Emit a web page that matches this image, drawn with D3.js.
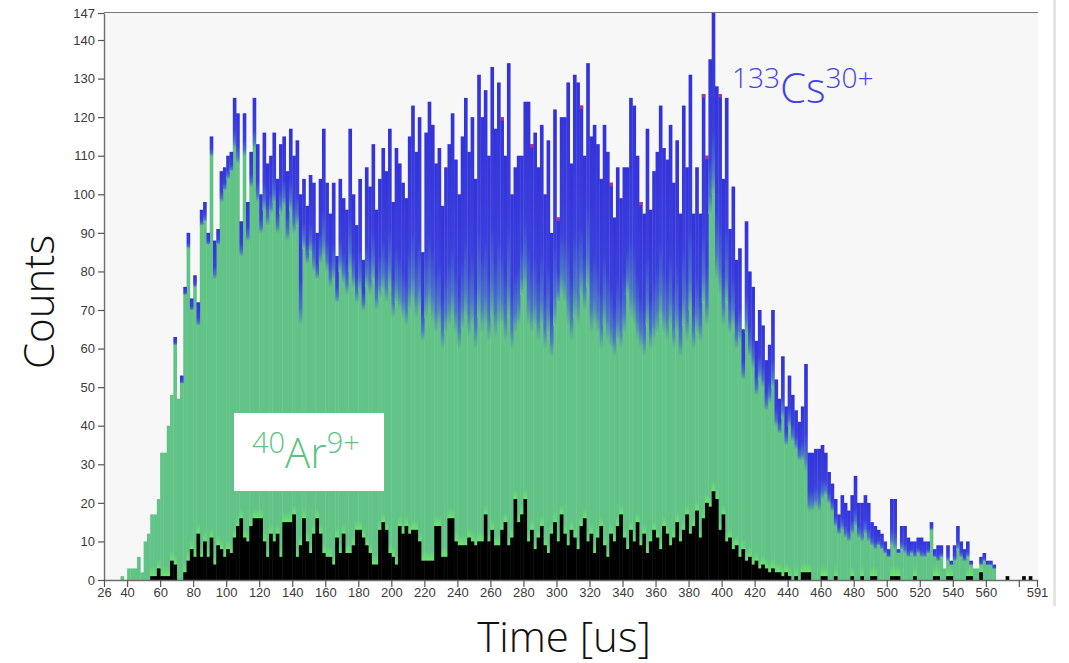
<!DOCTYPE html>
<html>
<head>
<meta charset="utf-8">
<script src="https://cdn.jsdelivr.net/npm/d3@7/dist/d3.min.js"></script>
<style>
  body { margin: 0; background: #fff; }
  svg { display: block; }
</style>
</head>
<body>
<svg id="chart" width="1069" height="663"></svg>
<script>
// Time-of-flight histogram: 2 us bins starting at 26 us
const binStart = 26;
const binWidth = 2;

// Total counts per bin (top of each bar)
const totalCounts = [
  0,0,0,0,0,1,0,3,3,3,6,2,10,12,17,17,21,33,33,40,
  48,63,47,53,76,90,73,79,72,96,98,90,115,88,91,106,107,110,111,125,
  121,93,121,98,111,125,113,100,116,108,110,116,104,113,115,106,117,110,114,100,
  104,97,105,103,90,104,117,103,95,103,84,104,99,96,117,100,92,104,83,107,
  102,113,96,104,112,106,117,98,112,108,103,99,115,123,111,120,85,116,124,118,
  108,112,97,107,113,121,109,100,115,125,111,120,104,131,120,127,110,133,117,129,
  120,110,134,100,107,110,110,124,124,113,116,107,118,100,114,90,122,94,120,120,
  129,108,131,129,123,110,134,115,118,113,104,118,111,103,94,107,99,107,107,125,
  123,110,98,95,117,96,106,111,123,112,109,118,103,114,95,123,107,131,95,107,
  95,126,110,135,147,128,126,104,125,91,102,83,86,65,93,80,76,62,70,66,
  57,61,70,52,47,58,45,53,48,44,41,45,56,33,33,34,34,35,33,28,
  25,21,17,22,20,18,22,27,20,20,22,20,15,14,13,12,10,8,21,21,
  8,14,14,11,10,10,11,11,10,10,15,8,9,9,3,9,5,9,14,10,
  8,10,5,3,3,6,7,5,5,4,0,0,0,0,0,0,0,0,0,0,
  0,0,0
];

// 40Ar9+ counts per bin (solid green part)
const argonCounts = [
  0,0,0,0,0,1,0,3,3,3,6,2,10,12,17,17,21,33,33,40,
  48,61,47,51,74,86,70,76,66,92,93,87,110,78,87,98,101,104,106,112,
  108,84,110,88,102,112,98,90,96,92,95,98,90,95,97,88,96,90,92,66,
  86,82,85,80,78,82,84,80,76,78,72,80,77,74,80,76,72,75,70,76,
  74,78,70,73,75,72,76,68,72,70,68,66,70,72,68,70,62,68,70,67,
  64,66,60,64,66,68,64,60,65,68,63,66,60,68,64,66,62,68,63,66,
  66,62,68,60,64,66,74,76,66,64,66,62,66,60,64,58,66,72,74,72,
  66,62,68,66,74,70,76,64,66,64,60,66,62,60,58,62,60,64,74,68,
  66,62,60,58,66,60,62,64,68,64,62,66,60,64,58,66,62,70,60,64,
  62,72,66,95,100,78,74,66,72,64,66,60,62,52,64,58,55,48,52,50,
  44,46,50,40,38,42,35,40,36,34,31,31,28,18,18,19,18,21,22,20,
  18,14,12,13,11,10,12,14,11,10,12,10,9,8,9,8,7,6,9,8,
  7,8,7,6,7,6,7,6,6,7,13,6,5,6,3,5,4,5,8,6,
  5,6,4,3,3,4,5,4,4,3,0,0,0,0,0,0,0,0,0,0,
  0,0,0
];

// Background counts per bin (black bars)
const backgroundCounts = [
  0,0,0,0,0,0,0,0,0,0,0,0,0,0,1,1,3,1,1,1,
  5,4,0,0,2,5,8,6,12,6,10,6,11,4,9,8,6,8,7,11,
  14,16,11,10,14,16,16,16,10,6,12,10,12,6,15,15,15,17,6,9,
  16,10,7,12,16,12,7,6,6,4,11,7,12,7,7,9,13,13,11,9,
  7,4,4,13,15,13,7,6,4,14,12,14,12,13,13,10,5,5,5,5,
  14,14,6,6,16,16,10,9,9,9,11,10,9,10,10,17,10,13,9,9,
  13,15,9,11,21,15,17,21,10,13,8,11,14,9,7,12,15,10,17,12,
  9,13,11,8,14,16,10,12,7,11,14,9,6,12,10,14,17,11,8,13,
  10,15,9,12,7,10,13,11,8,14,12,9,11,15,10,13,17,12,14,18,
  11,16,20,19,23,21,13,17,10,11,8,9,6,8,5,6,4,5,3,4,
  3,2,3,2,2,1,2,1,0,1,0,2,2,2,0,0,0,1,1,0,
  0,1,0,0,0,0,1,0,0,1,0,0,1,1,0,0,0,0,1,1,
  1,0,0,0,0,1,0,0,0,0,0,1,1,0,0,1,1,0,0,0,
  0,1,1,0,0,2,0,0,0,0,0,0,0,1,0,0,0,0,1,0,
  1,0,0
];

// Bins whose top carries a magenta tip
const magentaBins = [120, 129, 137, 144, 153, 162, 181, 182, 186];

const xTickValues = [26,40,60,80,100,120,140,160,180,200,220,240,260,280,300,320,340,360,380,400,420,440,460,480,500,520,540,560,580,591];
const xTickLabels = ["26","40","60","80","100","120","140","160","180","200","220","240","260","280","300","320","340","360","380","400","420","440","460","480","500","520","540","560","","591"];
const yTickValues = [0,10,20,30,40,50,60,70,80,90,100,110,120,130,140,147];

const bins = totalCounts.map((t, i) => ({
  i,
  start: binStart + i * binWidth,
  end: binStart + (i + 1) * binWidth,
  total: t,
  argon: argonCounts[i],
  bg: backgroundCounts[i]
}));

const svg = d3.select("#chart");
const x = d3.scaleLinear().domain([26, 591]).range([104, 1037]);
const y = d3.scaleLinear().domain([0, 147]).range([580, 13]);

// gradients
const defs = svg.append("defs");
const csGrad = defs.append("linearGradient").attr("id", "csGrad")
  .attr("x1", 0).attr("y1", 0).attr("x2", 0).attr("y2", 1);
csGrad.append("stop").attr("offset", "0").attr("stop-color", "#3333d9");
csGrad.append("stop").attr("offset", "0.64").attr("stop-color", "#3a40dc");
csGrad.append("stop").attr("offset", "0.87").attr("stop-color", "#4a78c4");
csGrad.append("stop").attr("offset", "1").attr("stop-color", "#62c386");

const glowGrad = defs.append("linearGradient").attr("id", "glowGrad")
  .attr("x1", 0).attr("y1", 0).attr("x2", 0).attr("y2", 1);
glowGrad.append("stop").attr("offset", "0").attr("stop-color", "#6fe86c").attr("stop-opacity", 0);
glowGrad.append("stop").attr("offset", "1").attr("stop-color", "#6fe86c").attr("stop-opacity", 0.85);

// side frame strip
svg.append("rect").attr("x", 1053).attr("y", 0).attr("width", 3).attr("height", 606).attr("fill", "#e4e4e4");

// plot panel
svg.append("rect")
  .attr("x", x(26)).attr("y", 12)
  .attr("width", 1038 - x(26)).attr("height", y(0) - 12)
  .attr("fill", "#f7f7f7");
svg.append("line")
  .attr("x1", x(26)).attr("x2", 1038).attr("y1", 12.5).attr("y2", 12.5)
  .attr("stroke", "#7a7a7a").attr("stroke-width", 1.2);

const barsG = svg.append("g");
const pad = 0.35;
const bx = d => x(d.start);
const bw = d => x(d.end) - x(d.start) + pad;

// green (Ar) part
barsG.selectAll("rect.ar").data(bins.filter(d => d.argon > 0)).join("rect")
  .attr("class", "ar")
  .attr("x", bx).attr("width", bw)
  .attr("y", d => y(d.argon)).attr("height", d => y(0) - y(d.argon))
  .attr("fill", "#62c386");

// blue (Cs) part on top, fading into green
barsG.selectAll("rect.cs").data(bins.filter(d => d.total > d.argon)).join("rect")
  .attr("class", "cs")
  .attr("x", bx).attr("width", bw)
  .attr("y", d => y(d.total)).attr("height", d => y(d.argon) - y(d.total) + 0.5)
  .attr("fill", "url(#csGrad)");

// magenta tips
barsG.selectAll("rect.tip").data(bins.filter(d => magentaBins.includes(d.i))).join("rect")
  .attr("class", "tip")
  .attr("x", bx).attr("width", bw)
  .attr("y", d => y(d.total)).attr("height", 3.5)
  .attr("fill", "#c8328a").attr("opacity", 0.85);

// bright green glow above background bars
barsG.selectAll("rect.glow").data(bins.filter(d => d.bg > 0 && d.argon > d.bg)).join("rect")
  .attr("class", "glow")
  .attr("x", bx).attr("width", bw)
  .attr("y", d => y(d.bg) - Math.min(10, y(d.bg) - y(d.argon)))
  .attr("height", d => Math.min(10, y(d.bg) - y(d.argon)))
  .attr("fill", "url(#glowGrad)");

// background (black) bars
barsG.selectAll("rect.bg").data(bins.filter(d => d.bg > 0)).join("rect")
  .attr("class", "bg")
  .attr("x", bx).attr("width", bw)
  .attr("y", d => y(d.bg)).attr("height", d => y(0) - y(d.bg))
  .attr("fill", "#000");

// axes
const yAxis = d3.axisLeft(y).tickValues(yTickValues).tickSize(6).tickSizeOuter(0).tickPadding(3);
const yG = svg.append("g").attr("transform", `translate(${x(26)},0)`).call(yAxis);

const xAxis = d3.axisBottom(x).tickValues(xTickValues).tickSize(7).tickSizeOuter(0).tickPadding(1)
  .tickFormat((d, i) => xTickLabels[i]);
const xG = svg.append("g").attr("transform", `translate(0,${y(0)})`).call(xAxis);

[yG, xG].forEach(g => {
  g.select(".domain").attr("stroke", "#6e6e6e").attr("stroke-width", 1.4);
  g.selectAll(".tick line").attr("stroke", "#555").attr("stroke-width", 1.2);
  g.selectAll(".tick text")
    .attr("fill", "#3a3a3a")
    .style("font-family", "'Liberation Sans', Arial, sans-serif")
    .style("font-size", "13px");
});

// axis titles
const lightFont = "'Open Sans', Lato, 'Noto Sans', sans-serif";
svg.append("text")
  .attr("transform", "translate(54,302) rotate(-90)")
  .attr("text-anchor", "middle")
  .style("font-family", lightFont).style("font-weight", 300).style("font-size", "42px")
  .attr("fill", "#111").text("Counts");
svg.append("text")
  .attr("x", 564).attr("y", 652)
  .attr("text-anchor", "middle")
  .style("font-family", lightFont).style("font-weight", 300).style("font-size", "42px")
  .attr("fill", "#111").text("Time [us]");

// ion labels
const csLabel = svg.append("text")
  .attr("x", 732).attr("y", 103)
  .style("font-family", lightFont).style("font-weight", 300)
  .attr("fill", "#4343e6");
csLabel.append("tspan").attr("dy", -15).style("font-size", "28px").text("133");
csLabel.append("tspan").attr("dy", 15).style("font-size", "42px").text("Cs");
csLabel.append("tspan").attr("dy", -15).style("font-size", "28px").text("30+");

svg.append("rect").attr("x", 234).attr("y", 413).attr("width", 150).attr("height", 78).attr("fill", "#fff");
const arLabel = svg.append("text")
  .attr("x", 252).attr("y", 468)
  .style("font-family", lightFont).style("font-weight", 300)
  .attr("fill", "#5ec27f");
arLabel.append("tspan").attr("dy", -15).style("font-size", "29px").text("40");
arLabel.append("tspan").attr("dy", 15).style("font-size", "42px").text("Ar");
arLabel.append("tspan").attr("dy", -15).style("font-size", "29px").text("9+");
</script>
</body>
</html>
